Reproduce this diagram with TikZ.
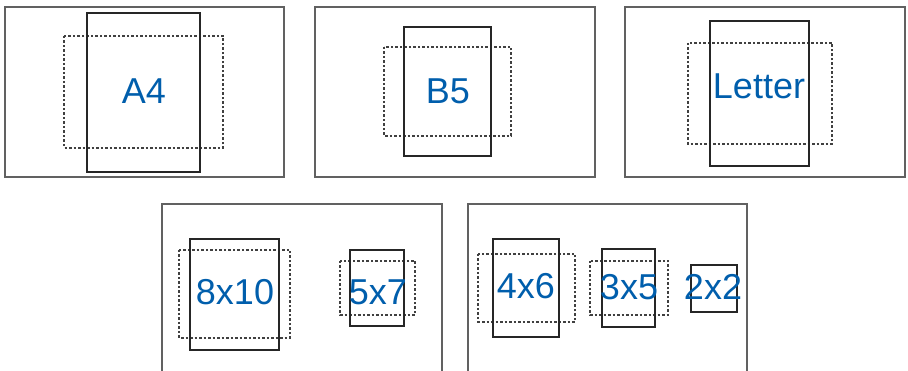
\documentclass[tikz,border=0pt]{standalone}
\usepackage{fontspec}
\setmainfont{Liberation Sans}
\usepackage{xcolor}
\definecolor{sizeblue}{RGB}{0,94,172}
\tikzset{
  frame/.style  ={draw=black!62, line width=1.3pt},
  paper/.style  ={draw=black!85, line width=1.3pt},
  land/.style   ={draw=black!75, line width=1.2pt, dash pattern=on 2.5pt off 2pt},
  sz/.style     ={font=\fontsize{36}{36}\selectfont, text=sizeblue,
                  inner sep=0pt},
}
\begin{document}
\begin{tikzpicture}[x=1pt, y=-1pt]
  \useasboundingbox (0,0) rectangle (908,371);
  % ---- top row: A4, B5, Letter
  \draw[frame] (5,7) rectangle (284,177);
  \draw[land]  (64,36) rectangle (223,148);
  \draw[paper] (87,13) rectangle (200,172);
  \node[sz] (a4) at (144,91) {A4};
  \draw[frame] (315,7) rectangle (595,177);
  \draw[land]  (384,47) rectangle (511,136);
  \draw[paper] (404,27) rectangle (491,156);
  \node[sz] (b5) at (448,91) {B5};
  \draw[frame] (625,7) rectangle (905,177);
  \draw[land]  (688,43) rectangle (832,144);
  \draw[paper] (710,21) rectangle (809,166);
  \node[sz] (letter) at (759,86) {Letter};
  % ---- bottom row: photo sizes (frames run off the bottom)
  \draw[frame] (162,372) -- (162,204) -- (442,204) -- (442,372);
  \draw[land]  (179,250) rectangle (290,338);
  \draw[paper] (190,239) rectangle (279,350);
  \node[sz] (p8x10) at (235,292) {8x10};
  \draw[land]  (340,261) rectangle (415,315);
  \draw[paper] (350,250) rectangle (404,326);
  \node[sz] (p5x7) at (378,292) {5x7};
  \draw[frame] (468,372) -- (468,204) -- (747,204) -- (747,372);
  \draw[land]  (478,254) rectangle (575,322);
  \draw[paper] (493,239) rectangle (559,337);
  \node[sz] (p4x6) at (526,286) {4x6};
  \draw[land]  (590,261) rectangle (668,315);
  \draw[paper] (602,249) rectangle (655,327);
  \node[sz] (p3x5) at (629,287) {3x5};
  \draw[paper] (691,265) rectangle (737,312);
  \node[sz] (p2x2) at (713,287) {2x2};
\end{tikzpicture}
\end{document}
